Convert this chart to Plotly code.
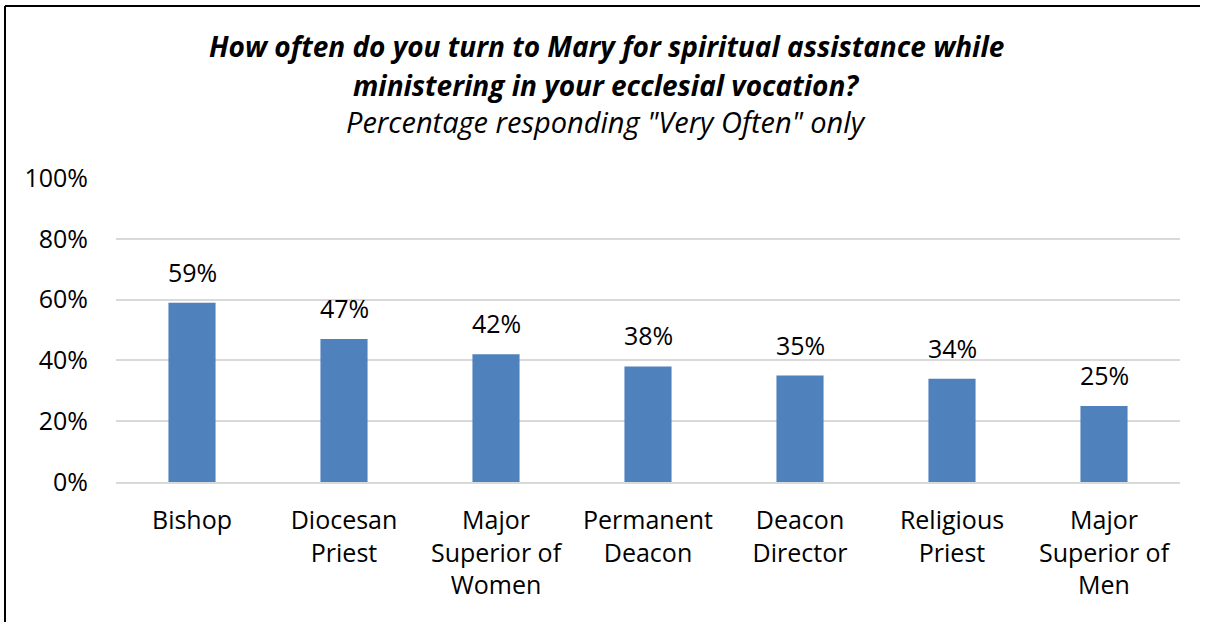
import plotly.graph_objects as go

categories = ["Bishop", "Diocesan<br>Priest", "Major<br>Superior of<br>Women", "Permanent<br>Deacon",
              "Deacon<br>Director", "Religious<br>Priest", "Major<br>Superior of<br>Men"]
values = [0.59, 0.47, 0.42, 0.38, 0.35, 0.34, 0.25]
labels = ["59%", "47%", "42%", "38%", "35%", "34%", "25%"]
tick_vals = [0, 0.2, 0.4, 0.6, 0.8, 1.0]
tick_text = ["0%", "20%", "40%", "60%", "80%", "100%"]
title_line1 = "How often do you turn to Mary for spiritual assistance while"
title_line2 = "ministering in your ecclesial vocation?"
subtitle = 'Percentage responding "Very Often" only'

FONT = "Open Sans"
W, H = 1205, 622
L, R, T, B = 116, 25, 178, 140
pw, ph = W - L - R, H - T - B

def px_x(p):
    return (p - L) / pw

def px_y(p):
    return (H - B - p) / ph

fig = go.Figure()
fig.add_trace(go.Bar(x=categories, y=values, marker=dict(color="#4F81BD", line=dict(width=0)),
                     width=0.31, hoverinfo="skip"))

for c, v, t in zip(categories, values, labels):
    fig.add_annotation(x=c, y=v, text=t, showarrow=False, yanchor="bottom", yshift=12,
                       font=dict(family=FONT, size=25, color="#000000"))

cx = px_x(606)
fig.add_annotation(x=cx, y=px_y(46), xref="paper", yref="paper", text="<b><i>" + title_line1 + "</i></b>",
                   showarrow=False, xanchor="center", yanchor="middle",
                   font=dict(family=FONT, size=28, color="#000000"))
fig.add_annotation(x=cx, y=px_y(85), xref="paper", yref="paper", text="<b><i>" + title_line2 + "</i></b>",
                   showarrow=False, xanchor="center", yanchor="middle",
                   font=dict(family=FONT, size=28, color="#000000"))
fig.add_annotation(x=cx, y=px_y(121), xref="paper", yref="paper", text="<i>" + subtitle + "</i>",
                   showarrow=False, xanchor="center", yanchor="middle",
                   font=dict(family=FONT, size=29, color="#000000"))

# outer border (left and top edges visible)
fig.add_shape(type="line", xref="paper", yref="paper", x0=px_x(5), x1=px_x(5), y0=px_y(6), y1=px_y(622),
              line=dict(color="#000000", width=2))
fig.add_shape(type="line", xref="paper", yref="paper", x0=px_x(5), x1=px_x(1200), y0=px_y(6), y1=px_y(6),
              line=dict(color="#000000", width=2))

fig.update_layout(
    width=W, height=H, margin=dict(l=L, r=R, t=T, b=B, autoexpand=False),
    paper_bgcolor="white", plot_bgcolor="white", showlegend=False,
    font=dict(family=FONT, size=25, color="#000000"),
    xaxis=dict(showgrid=False, showline=True, linecolor="#D9D9D9", linewidth=2, ticks="",
               ticklabelstandoff=15, tickfont=dict(family=FONT, size=25, color="#000000")),
    yaxis=dict(range=[0, 1], tickvals=tick_vals, ticktext=tick_text, showgrid=True,
               gridcolor="#D9D9D9", gridwidth=2, zeroline=False, showline=False, ticks="",
               ticklabelstandoff=27, tickfont=dict(family=FONT, size=25, color="#000000")),
)

fig.write_html("out.html", config={"displayModeBar": False},
               post_script="document.body.style.margin='0';document.body.style.overflow='hidden';")
